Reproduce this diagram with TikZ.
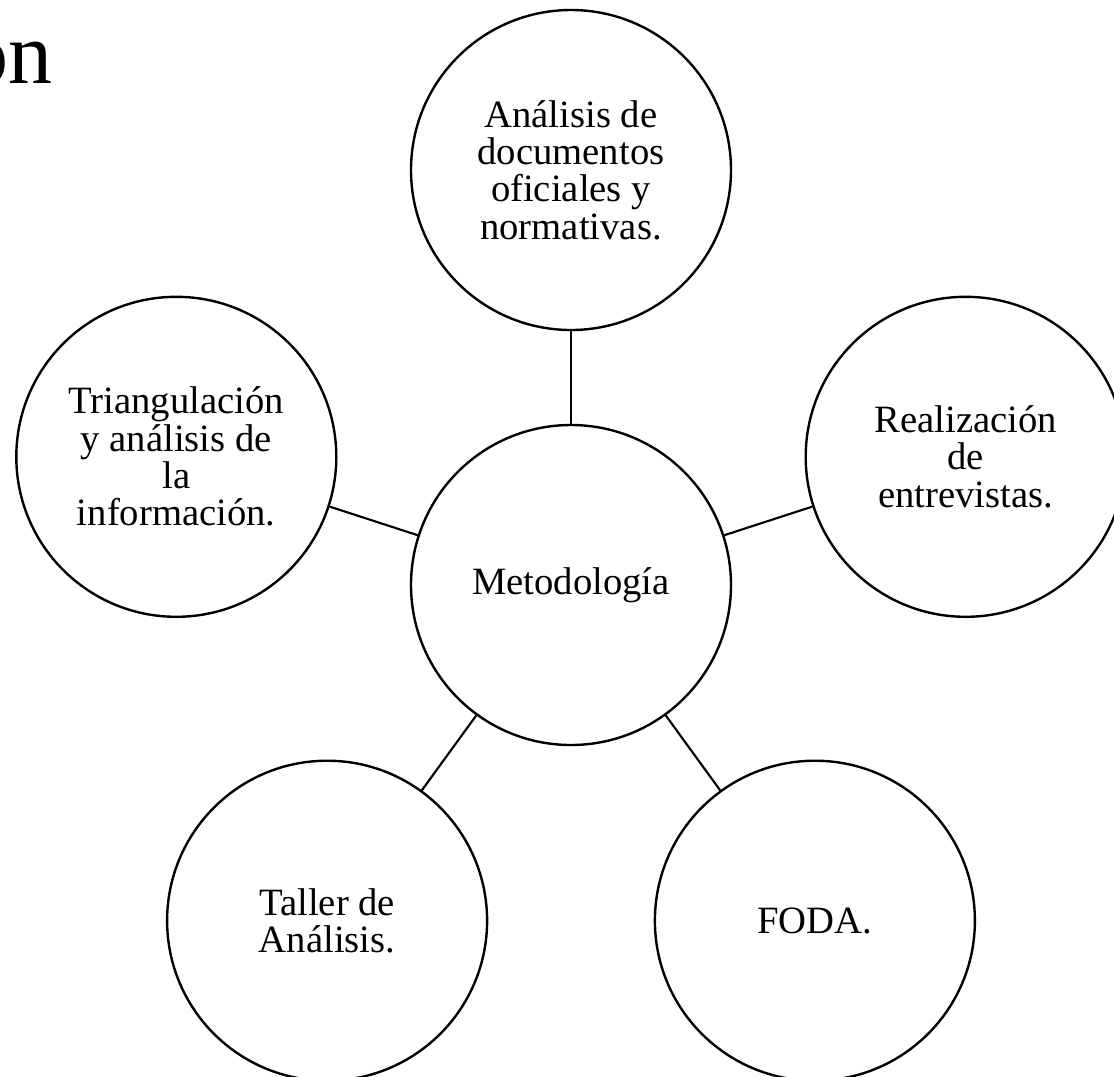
\documentclass[tikz,border=0pt]{standalone}
\usepackage{fontspec}
\setmainfont{Liberation Serif}
\usepackage{tikz}

\tikzset{
  bubble/.style={draw, circle, line width=1.8pt, minimum size=240pt, inner sep=0pt,
    align=center, font=\fontsize{29}{28}\selectfont},
  link/.style={line width=1.6pt}
}

\begin{document}
\begin{tikzpicture}[x=0.75pt,y=0.75pt,yscale=-1,xscale=1]
\useasboundingbox (0,0) rectangle (1114,1076);

% Title tail
\node [anchor=base east, inner sep=0pt, font=\fontsize{66}{70}\selectfont] (ttl) at (53,83) {on};

% Circle Nodes
\node [bubble] (meto) at (571,585) {Metodología};
\node [bubble] (docs) at (571,170) {Análisis de\\documentos\\oficiales y\\normativas.};
\node [bubble] (entr) at (965.7,456.8) {Realización\\de\\entrevistas.};
\node [bubble] (foda) at (814.9,920.7) {FODA.};
\node [bubble] (tall) at (327.1,920.7) {Taller de\\Análisis.};
\node [bubble] (tria) at (176.3,456.8) {Triangulación\\y análisis de\\la\\información.};

%Straight Lines
\draw [link] (meto) -- (docs);
\draw [link] (meto) -- (entr);
\draw [link] (meto) -- (foda);
\draw [link] (meto) -- (tall);
\draw [link] (meto) -- (tria);

\end{tikzpicture}
\end{document}
